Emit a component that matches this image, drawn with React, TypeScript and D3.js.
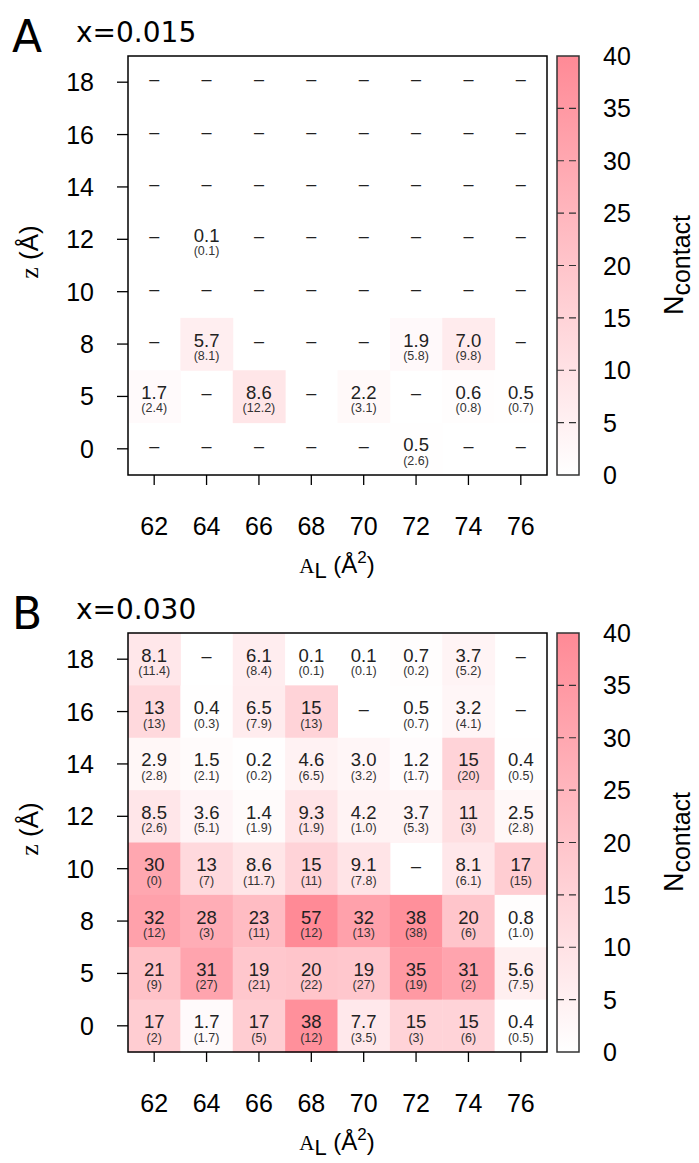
import React from "react";
import * as d3 from "d3";

// lipid area per molecule (x axis) and z position (rows, top to bottom)
const areas = [62, 64, 66, 68, 70, 72, 74, 76];
const zRows = ["18", "16", "14", "12", "10", "8", "5", "0"];
const cbarTicks = [0, 5, 10, 15, 20, 25, 30, 35, 40];

// x = 0.015, mean N_contact and (sd); null = "–"
const meanA = [
  [null, null, null, null, null, null, null, null],
  [null, null, null, null, null, null, null, null],
  [null, null, null, null, null, null, null, null],
  [null, 0.1, null, null, null, null, null, null],
  [null, null, null, null, null, null, null, null],
  [null, 5.7, null, null, null, 1.9, 7.0, null],
  [1.7, null, 8.6, null, 2.2, null, 0.6, 0.5],
  [null, null, null, null, null, 0.5, null, null],
];
const sdA = [
  [null, null, null, null, null, null, null, null],
  [null, null, null, null, null, null, null, null],
  [null, null, null, null, null, null, null, null],
  [null, 0.1, null, null, null, null, null, null],
  [null, null, null, null, null, null, null, null],
  [null, 8.1, null, null, null, 5.8, 9.8, null],
  [2.4, null, 12.2, null, 3.1, null, 0.8, 0.7],
  [null, null, null, null, null, 2.6, null, null],
];

// x = 0.030
const meanB = [
  [8.1, null, 6.1, 0.1, 0.1, 0.7, 3.7, null],
  [13, 0.4, 6.5, 15, null, 0.5, 3.2, null],
  [2.9, 1.5, 0.2, 4.6, 3.0, 1.2, 15, 0.4],
  [8.5, 3.6, 1.4, 9.3, 4.2, 3.7, 11, 2.5],
  [30, 13, 8.6, 15, 9.1, null, 8.1, 17],
  [32, 28, 23, 57, 32, 38, 20, 0.8],
  [21, 31, 19, 20, 19, 35, 31, 5.6],
  [17, 1.7, 17, 38, 7.7, 15, 15, 0.4],
];
const sdB = [
  [11.4, null, 8.4, 0.1, 0.1, 0.2, 5.2, null],
  [13, 0.3, 7.9, 13, null, 0.7, 4.1, null],
  [2.8, 2.1, 0.2, 6.5, 3.2, 1.7, 20, 0.5],
  [2.6, 5.1, 1.9, 1.9, 1.0, 5.3, 3, 2.8],
  [0, 7, 11.7, 11, 7.8, null, 6.1, 15],
  [12, 3, 11, 12, 13, 38, 6, 1.0],
  [9, 27, 21, 22, 27, 19, 2, 7.5],
  [2, 1.7, 5, 12, 3.5, 3, 6, 0.5],
];

const SANS = "'Liberation Sans', Arial, Helvetica, sans-serif";
const SERIF = "'Liberation Serif', 'Times New Roman', serif";
const DEJAVU = "'DejaVu Sans', Verdana, sans-serif";

const color = d3
  .scaleLinear<string>()
  .domain([0, 40])
  .range(["#ffffff", "#ff8a96"])
  .clamp(true);

const fmt = (m: number, v: number) => (m >= 10 ? v.toFixed(0) : v.toFixed(1));

function Panel({ top, letter, title, mean, sd }: any) {
  const x = d3.scaleBand<number>().domain(areas).range([128, 547]);
  const y = d3.scaleBand<string>().domain(zRows).range([top, top + 419]);
  const cb = d3.scaleLinear().domain([0, 40]).range([top + 419, top]);
  const gid = "grad" + letter;
  const bw = x.bandwidth();
  const bh = y.bandwidth();

  return (
    <g>
      <text x={12} y={top - 4} fontFamily={DEJAVU} fontSize={44}>
        {letter}
      </text>
      <text x={76} y={top - 14} fontFamily={DEJAVU} fontSize={28}>
        {title}
      </text>

      {mean.map((row: (number | null)[], i: number) =>
        row.map((m, j) =>
          m == null ? null : (
            <rect
              key={`r${i}-${j}`}
              x={x(areas[j])}
              y={y(zRows[i])}
              width={bw + 0.5}
              height={bh + 0.5}
              fill={color(m)}
            />
          )
        )
      )}

      {mean.map((row: (number | null)[], i: number) =>
        row.map((m, j) => {
          const cx = x(areas[j])! + bw / 2;
          const cy = y(zRows[i])! + bh / 2;
          if (m == null)
            return (
              <text
                key={`t${i}-${j}`}
                x={cx}
                y={cy + 3}
                textAnchor="middle"
                fontFamily={SANS}
                fontSize={18}
                fill="#222"
              >
                –
              </text>
            );
          const s = sd[i][j];
          return (
            <g key={`t${i}-${j}`} fontFamily={SANS} fill="#222" textAnchor="middle">
              <text x={cx} y={cy + 2.5} fontSize={18.5}>
                {fmt(m, m)}
              </text>
              <text x={cx} y={cy + 16} fontSize={12.5} fill="#333">
                ({fmt(m, s)})
              </text>
            </g>
          );
        })
      )}

      <rect x={128} y={top} width={419} height={419} fill="none" stroke="#000" strokeWidth={1.5} />

      {zRows.map((z) => {
        const cy = y(z)! + bh / 2;
        return (
          <g key={z}>
            <line x1={117} x2={128} y1={cy} y2={cy} stroke="#000" strokeWidth={1.3} />
            <text x={94} y={cy + 9} textAnchor="end" fontFamily={SANS} fontSize={25}>
              {z}
            </text>
          </g>
        );
      })}
      {areas.map((a) => {
        const cx = x(a)! + bw / 2;
        return (
          <g key={a}>
            <line x1={cx} x2={cx} y1={top + 419} y2={top + 429} stroke="#000" strokeWidth={1.3} />
            <text x={cx} y={top + 479} textAnchor="middle" fontFamily={SANS} fontSize={25}>
              {a}
            </text>
          </g>
        );
      })}

      <text x={337} y={top + 517} textAnchor="middle" fontFamily={SANS} fontSize={24}>
        <tspan fontFamily={SERIF} fontSize={21}>A</tspan>
        <tspan fontSize={22} dy={5}>L</tspan>
        <tspan dy={-5}> (Å</tspan>
        <tspan fontSize={17} dy={-10}>2</tspan>
        <tspan dy={10}>)</tspan>
      </text>

      <text
        transform={`translate(38,${top + 196}) rotate(-90)`}
        textAnchor="middle"
        fontFamily={SANS}
        fontSize={26}
      >
        <tspan fontFamily={SERIF}>z</tspan>
        <tspan> (Å)</tspan>
      </text>

      <defs>
        <linearGradient id={gid} x1="0" y1="1" x2="0" y2="0">
          <stop offset="0" stopColor={color(0)} />
          <stop offset="1" stopColor={color(40)} />
        </linearGradient>
      </defs>
      <rect x={557} y={top} width={22} height={419} fill={`url(#${gid})`} />
      {cbarTicks.slice(1, -1).map((t) => (
        <line
          key={t}
          x1={557}
          x2={579}
          y1={cb(t)}
          y2={cb(t)}
          stroke="#333"
          strokeWidth={1.2}
          strokeDasharray="7,5"
        />
      ))}
      <rect x={557} y={top} width={22} height={419} fill="none" stroke="#333" strokeWidth={1.5} />
      {cbarTicks.map((t) => (
        <text key={t} x={603} y={cb(t) + 9} fontFamily={SANS} fontSize={25}>
          {t}
        </text>
      ))}
      <text
        transform={`translate(683,${top + 209}) rotate(-90)`}
        textAnchor="middle"
        fontFamily={SANS}
        fontSize={27}
      >
        <tspan>N</tspan>
        <tspan fontSize={25} dy={7}>contact</tspan>
      </text>
    </g>
  );
}

export default function App() {
  return (
    <svg
      width={699}
      height={1163}
      style={{ position: "absolute", left: 0, top: 0, background: "#fff" }}
    >
      <Panel top={56} letter="A" title="x=0.015" mean={meanA} sd={sdA} />
      <Panel top={633} letter="B" title="x=0.030" mean={meanB} sd={sdB} />
    </svg>
  );
}
